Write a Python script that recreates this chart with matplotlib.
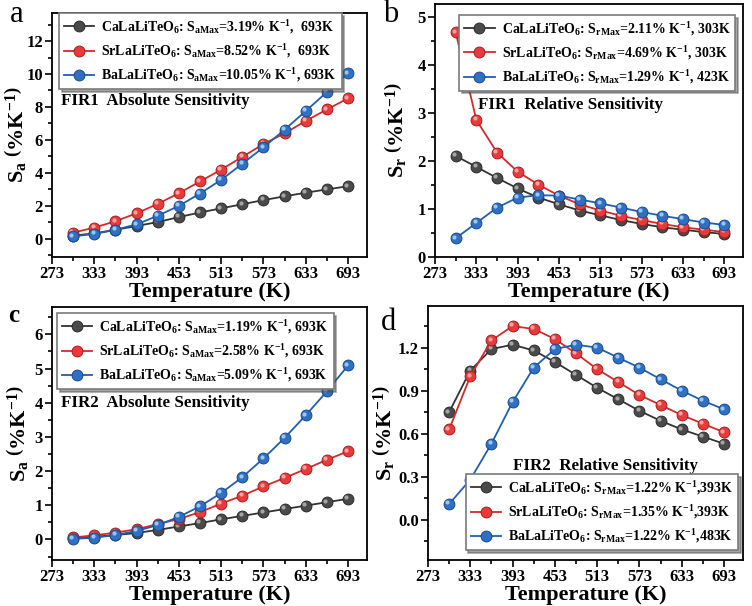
import numpy as np
import matplotlib
matplotlib.use("Agg")
import matplotlib.pyplot as plt
import matplotlib.transforms as mtransforms
from matplotlib.ticker import MultipleLocator, FixedLocator

plt.rcParams['font.family'] = ['Liberation Serif', 'DejaVu Serif']
plt.rcParams['font.weight'] = 'bold'
plt.rcParams['axes.labelweight'] = 'bold'
plt.rcParams['mathtext.fontset'] = 'custom'
plt.rcParams['mathtext.rm'] = 'Liberation Serif:bold'
plt.rcParams['mathtext.it'] = 'Liberation Serif:bold'
plt.rcParams['mathtext.bf'] = 'Liberation Serif:bold'

temps = [303, 333, 363, 393, 423, 453, 483, 513, 543, 573, 603, 633, 663, 693]
hosts = ['CaLaLiTeO', 'SrLaLiTeO', 'BaLaLiTeO']

# FIR1 absolute sensitivity
a_ca = [0.2, 0.33, 0.55, 0.78, 1.02, 1.32, 1.6, 1.85, 2.1, 2.35, 2.58, 2.8, 3.0, 3.19]
a_sr = [0.38, 0.68, 1.07, 1.55, 2.12, 2.77, 3.48, 4.2, 4.97, 5.75, 6.4, 7.15, 7.85, 8.52]
a_ba = [0.15, 0.3, 0.55, 0.88, 1.4, 2.0, 2.75, 3.58, 4.55, 5.55, 6.62, 7.75, 8.9, 10.05]
# FIR1 relative sensitivity
b_ca = [2.11, 1.88, 1.65, 1.43, 1.24, 1.1, 0.97, 0.87, 0.77, 0.69, 0.62, 0.57, 0.52, 0.48]
b_sr = [4.69, 2.86, 2.18, 1.78, 1.51, 1.28, 1.1, 0.97, 0.86, 0.77, 0.69, 0.62, 0.57, 0.52]
b_ba = [0.39, 0.71, 1.03, 1.24, 1.29, 1.28, 1.2, 1.12, 1.03, 0.94, 0.86, 0.79, 0.72, 0.67]
# FIR2 absolute sensitivity
c_ca = [0.05, 0.08, 0.13, 0.19, 0.28, 0.38, 0.48, 0.59, 0.69, 0.79, 0.89, 0.99, 1.09, 1.19]
c_sr = [0.06, 0.12, 0.2, 0.3, 0.45, 0.6, 0.8, 1.05, 1.28, 1.55, 1.8, 2.06, 2.33, 2.58]
c_ba = [0.02, 0.05, 0.13, 0.25, 0.42, 0.66, 0.97, 1.36, 1.82, 2.37, 2.97, 3.63, 4.33, 5.09]
# FIR2 relative sensitivity
d_ca = [0.75, 1.04, 1.19, 1.22, 1.18, 1.1, 1.01, 0.92, 0.84, 0.76, 0.69, 0.63, 0.58, 0.53]
d_sr = [0.63, 1.0, 1.25, 1.35, 1.33, 1.26, 1.16, 1.05, 0.96, 0.87, 0.8, 0.73, 0.67, 0.61]
d_ba = [0.11, 0.28, 0.53, 0.82, 1.06, 1.19, 1.22, 1.2, 1.13, 1.06, 0.98, 0.9, 0.83, 0.77]

a_max = ['3.19% K$^{-1}$,  693K', '8.52% K$^{-1}$,  693K', '10.05% K$^{-1}$, 693K']
b_max = ['2.11% K$^{-1}$, 303K', '4.69% K$^{-1}$, 303K', '1.29% K$^{-1}$, 423K']
c_max = ['1.19% K$^{-1}$, 693K', '2.58% K$^{-1}$, 693K', '5.09% K$^{-1}$, 693K']
d_max = ['1.22% K$^{-1}$,393K', '1.35% K$^{-1}$,393K', '1.22% K$^{-1}$,483K']

xticks = [273, 333, 393, 453, 513, 573, 633, 693]
xminor = [303, 363, 423, 483, 543, 603, 663]

colors = ['#4a4a4a', '#e83a3a', '#2f6fc4']
lines = ['#333333', '#d42a2a', '#1f5fb0']
edges = ['#2a2a2a', '#a51e1e', '#1a4a8a']
highlights = ['#b0b0b0', '#ffb0b0', '#a8d0f5']

fig = plt.figure(figsize=(7.52, 6.06), dpi=100)
W, H = 752, 606
boxes = [(52, 13, 367, 257), (435, 4, 743, 257), (52, 307, 367, 560), (428, 306, 743, 560)]


def make_ax(box):
    l, t, r, b = box
    return fig.add_axes([l / W, 1 - b / H, (r - l) / W, (b - t) / H])


def draw(ax, series, maxes, sub, ylim, major, minor, ylab, ylab_x, note, note_xy,
         leg_loc, leg_anchor, fmt):
    hl = []
    for i, ys in enumerate(series):
        h, = ax.plot(temps, ys, '-', color=lines[i], lw=1.3, marker='o', ms=7.8,
                     mfc=colors[i], mec=edges[i], mew=0.7, zorder=3 + i)
        off = mtransforms.offset_copy(ax.transData, fig=fig, x=-1.2, y=1.2, units='points')
        ax.plot(temps, ys, 'o', ms=3, mfc=highlights[i], mec='none', alpha=0.9,
                transform=off, zorder=3 + i)
        hl.append(h)
    labels = [hosts[i] + '$_6$: S$_{\\mathrm{' + sub + '}}$=' + maxes[i] for i in range(3)]
    leg = ax.legend(hl, labels, loc=leg_loc, bbox_to_anchor=leg_anchor, fancybox=False,
                    shadow=True, edgecolor='#7a7a7a', fontsize=10, handlelength=2.2,
                    borderpad=0.35, labelspacing=0.45, handletextpad=0.5, framealpha=1,
                    borderaxespad=0)
    leg.get_frame().set_linewidth(1.2)
    ax.set_xlim(273, 720)
    ax.set_ylim(*ylim)
    ax.xaxis.set_major_locator(FixedLocator(xticks))
    ax.xaxis.set_minor_locator(FixedLocator(xminor))
    ax.yaxis.set_major_locator(MultipleLocator(major))
    ax.yaxis.set_minor_locator(MultipleLocator(minor))
    ax.yaxis.set_major_formatter(plt.FormatStrFormatter(fmt))
    ax.tick_params(which='both', direction='out', top=False, right=False, width=1.2)
    ax.tick_params(which='major', length=5, labelsize=12, pad=1.5)
    ax.tick_params(which='minor', length=3)
    for s in ax.spines.values():
        s.set_linewidth(1.3)
    ax.set_xlabel('Temperature (K)', fontsize=16, labelpad=0)
    ax.set_ylabel(ylab, fontsize=16)
    ax.yaxis.set_label_coords(ylab_x, 0.5)
    ax.text(note_xy[0], note_xy[1], note, transform=ax.transAxes, fontsize=12.2,
            fontweight='bold', va='center')


ax = make_ax(boxes[0])
draw(ax, [a_ca, a_sr, a_ba], a_max, 'aMax', (-1.1, 13.7), 2, 1,
     r'S$_\mathrm{a}$ $\left(\%\mathrm{K}^{-1}\right)$', -0.076, 'FIR1  Absolute Sensitivity',
     (0.03, 0.64), 'upper left', (0.022, 1.0), '%d')

ax = make_ax(boxes[1])
draw(ax, [b_ca, b_sr, b_ba], b_max, 'rMax', (0, 5.28), 1, 0.5,
     r'S$_\mathrm{r}$ $\left(\%\mathrm{K}^{-1}\right)$', -0.088, 'FIR1  Relative Sensitivity',
     (0.14, 0.6), 'upper right', (0.975, 0.957), '%d')

ax = make_ax(boxes[2])
draw(ax, [c_ca, c_sr, c_ba], c_max, 'aMax', (-0.6, 6.8), 1, 0.5,
     r'S$_\mathrm{a}$ $\left(\%\mathrm{K}^{-1}\right)$', -0.07, 'FIR2  Absolute Sensitivity',
     (0.03, 0.62), 'upper left', (0.016, 0.976), '%d')

ax = make_ax(boxes[3])
draw(ax, [d_ca, d_sr, d_ba], d_max, 'rMax', (-0.28, 1.49), 0.3, 0.15,
     r'S$_\mathrm{r}$ $\left(\%\mathrm{K}^{-1}\right)$', -0.1, 'FIR2  Relative Sensitivity',
     (0.27, 0.37), 'lower right', (0.985, 0.04), '%.1f')

for letter, x, y, fs, fw in [('a', 17, 15, 22, 'normal'), ('b', 391, 14, 22, 'normal'),
                             ('c', 14, 315, 18, 'bold'), ('d', 388, 323, 22, 'normal')]:
    fig.text(x / W, 1 - y / H, letter, fontsize=fs, fontweight=fw,
             ha='center', va='center')

fig.savefig('out.png', dpi=100)
